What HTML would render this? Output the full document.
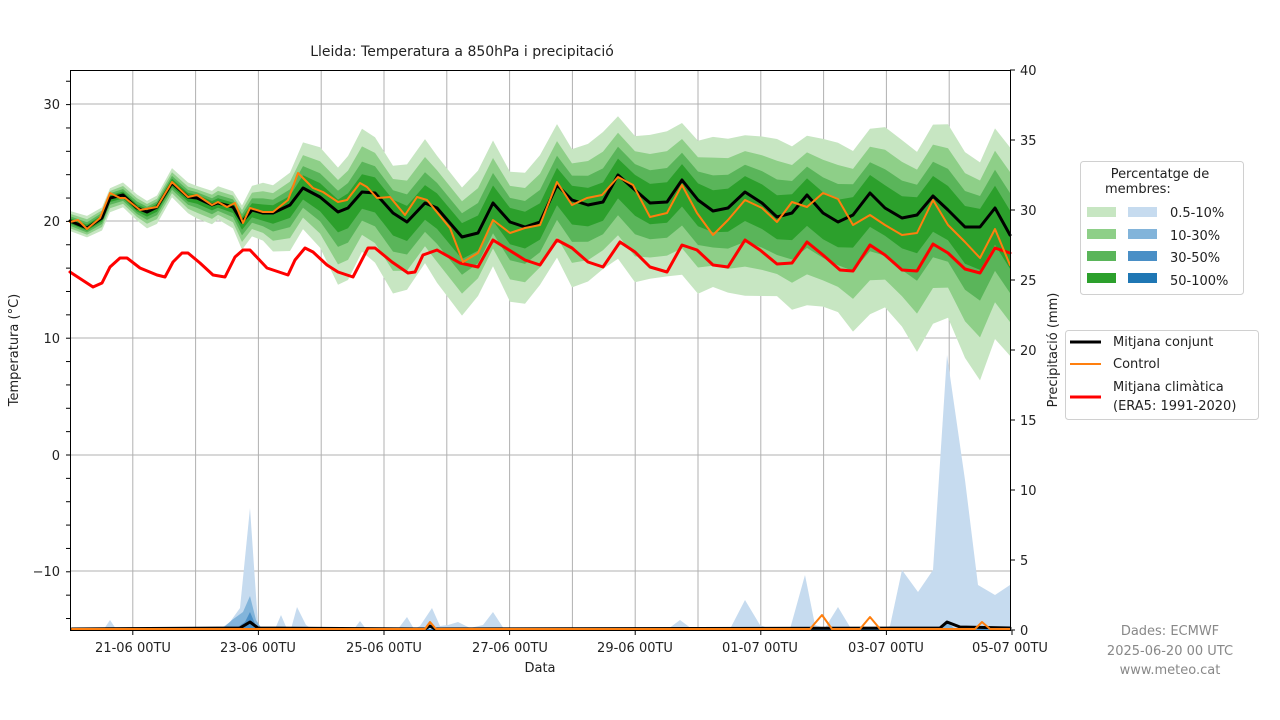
<!DOCTYPE html>
<html><head><meta charset="utf-8"><style>
html,body{margin:0;padding:0;background:#fff}
svg{display:block;font-family:"DejaVu Sans","Liberation Sans",sans-serif}
</style></head><body>
<svg id="s" width="1280" height="720" viewBox="0 0 1280 720" xmlns="http://www.w3.org/2000/svg">
<rect width="1280" height="720" fill="#fff"/>
<g id="grid" stroke="#b0b0b0" stroke-width="1"></g>
<g id="bands"></g>
<g id="precip"></g>
<g id="lines" fill="none" stroke-linejoin="round" stroke-linecap="round"></g>
<rect x="70.5" y="70.5" width="940" height="560" fill="none" stroke="#000" stroke-width="1"/>
<g id="ticks" stroke="#000" stroke-width="1"></g>
<g font-size="13" fill="#222">
<text x="462" y="56" text-anchor="middle" font-size="14">Lleida: Temperatura a 850hPa i precipitació</text>
<text x="60" y="109" text-anchor="end">30</text>
<text x="60" y="226" text-anchor="end">20</text>
<text x="60" y="343" text-anchor="end">10</text>
<text x="60" y="460" text-anchor="end">0</text>
<text x="60" y="576" text-anchor="end">−10</text>
<text x="1020" y="75">40</text>
<text x="1020" y="145">35</text>
<text x="1020" y="215">30</text>
<text x="1020" y="285">25</text>
<text x="1020" y="355">20</text>
<text x="1020" y="425">15</text>
<text x="1020" y="495">10</text>
<text x="1020" y="565">5</text>
<text x="1020" y="635">0</text>
<text x="133" y="652" text-anchor="middle">21-06 00TU</text>
<text x="258" y="652" text-anchor="middle">23-06 00TU</text>
<text x="384" y="652" text-anchor="middle">25-06 00TU</text>
<text x="510" y="652" text-anchor="middle">27-06 00TU</text>
<text x="635" y="652" text-anchor="middle">29-06 00TU</text>
<text x="760" y="652" text-anchor="middle">01-07 00TU</text>
<text x="886" y="652" text-anchor="middle">03-07 00TU</text>
<text x="1010" y="652" text-anchor="middle">05-07 00TU</text>
<text x="540" y="672" text-anchor="middle">Data</text>
<text transform="translate(18,350) rotate(-90)" text-anchor="middle">Temperatura (°C)</text>
<text transform="translate(1057,350) rotate(-90)" text-anchor="middle">Precipitació (mm)</text>
<g fill="#888"><text x="1170" y="635" text-anchor="middle">Dades: ECMWF</text>
<text x="1170" y="655" text-anchor="middle">2025-06-20 00 UTC</text>
<text x="1170" y="674" text-anchor="middle">www.meteo.cat</text></g>
</g>
<g font-size="13" fill="#222">
<rect x="1080.5" y="161.5" width="163" height="133" rx="3" fill="#fff" stroke="#d0d0d0"/>
<text x="1160" y="178" text-anchor="middle">Percentatge de</text>
<text x="1105" y="193">membres:</text>
<rect x="1087" y="207" width="29" height="10" fill="#c7e6c2"/><rect x="1128" y="207" width="29" height="10" fill="#c6dbef"/><text x="1170" y="217">0.5-10%</text>
<rect x="1087" y="229" width="29" height="10" fill="#8ecf88"/><rect x="1128" y="229" width="29" height="10" fill="#82b4da"/><text x="1170" y="240">10-30%</text>
<rect x="1087" y="251" width="29" height="10" fill="#5ab55a"/><rect x="1128" y="251" width="29" height="10" fill="#4a8fc6"/><text x="1170" y="262">30-50%</text>
<rect x="1087" y="273" width="29" height="10" fill="#2ca02c"/><rect x="1128" y="273" width="29" height="10" fill="#1f77b4"/><text x="1170" y="285">50-100%</text>
<rect x="1065.5" y="330.5" width="193" height="89" rx="3" fill="#fff" stroke="#d0d0d0"/>
<line x1="1070" y1="342" x2="1101" y2="342" stroke="#000" stroke-width="3"/><text x="1113" y="346">Mitjana conjunt</text>
<line x1="1070" y1="364" x2="1101" y2="364" stroke="#ff7f0e" stroke-width="2"/><text x="1113" y="368">Control</text>
<line x1="1070" y1="397" x2="1101" y2="397" stroke="#ff0000" stroke-width="3"/><text x="1113" y="391">Mitjana climàtica</text><text x="1113" y="410">(ERA5: 1991-2020)</text>
</g>
</svg>
<script>
(function(){
var NS="http://www.w3.org/2000/svg";
function el(p,t,a){var e=document.createElementNS(NS,t);for(var k in a)e.setAttribute(k,a[k]);document.getElementById(p).appendChild(e);return e;}
for(var d=1;d<15;d++){var x=70+d*62.8;el("grid","line",{x1:x,y1:70,x2:x,y2:630});}
[104,221,338,455,571].forEach(function(y){el("grid","line",{x1:70,y1:y,x2:1010,y2:y});});
for(var v=-14;v<=32;v+=2){var y=455-v*11.68;el("ticks","line",{x1:66,y1:y,x2:70,y2:y});}
for(var v=0;v<=40;v+=5){var y=630-v*14;el("ticks","line",{x1:1010,y1:y,x2:1015,y2:y});}
for(var d=1;d<=15;d+=2){var x=70+d*62.8;el("ticks","line",{x1:x,y1:630,x2:x,y2:635});}
var mean=[[70,221],[87,228],[102,218],[110,198],[123,195],[137,208],[147,212],[157,207],[172,183],[188,197],[197,198],[212,205],[218,203],[233,207],[242,222],[252,210],[263,213],[273,213],[290,205],[303,188],[320,197],[338,212],[348,208],[362,192],[375,193],[393,213],[407,222],[425,203],[437,208],[462,237],[478,233],[493,203],[510,222],[525,227],[540,222],[557,185],[572,200],[588,205],[603,202],[618,175],[635,190],[650,203],[667,202],[682,180],[698,200],[713,211],[728,208],[745,192],[762,203],[777,217],[792,213],[807,195],[823,213],[838,222],[853,215],[870,193],[885,208],[902,218],[917,215],[933,196],[948,210],[965,227],[980,227],[995,208],[1010,235]];
var ctrl=[[70,222],[78,220],[87,229],[100,218],[110,193],[120,198],[125,198],[140,210],[157,207],[172,182],[188,197],[197,195],[212,205],[218,202],[227,207],[235,203],[243,223],[250,208],[263,212],[273,212],[288,200],[298,173],[313,188],[323,192],[338,202],[347,200],[360,183],[367,187],[377,198],[390,197],[405,215],[417,197],[427,200],[450,228],[463,262],[478,253],[493,220],[510,233],[525,228],[540,225],[557,182],[572,205],[587,198],[602,195],[618,177],[633,185],[650,217],[667,213],[682,185],[697,213],[713,235],[728,220],[745,200],[762,208],[777,222],[792,202],[807,207],[823,193],[838,199],[853,225],[870,215],[885,225],[902,235],[917,233],[933,200],[948,225],[965,242],[980,258],[995,229],[1010,265]];
var red=[[70,272],[93,287],[102,283],[110,267],[120,258],[127,258],[140,268],[157,275],[165,277],[173,262],[182,253],[188,253],[200,263],[213,275],[225,277],[235,257],[243,250],[250,250],[267,268],[288,275],[295,260],[305,248],[313,252],[327,265],[338,272],[353,277],[368,248],[375,248],[392,262],[408,273],[415,272],[423,255],[437,250],[460,263],[478,267],[493,240],[525,260],[540,265],[557,240],[572,248],[588,262],[603,267],[620,242],[635,252],[650,267],[667,272],[682,245],[697,250],[713,265],[728,267],[745,240],[760,250],[777,264],[792,263],[807,242],[823,255],[840,270],[853,271],[870,245],[885,255],[902,270],[917,271],[933,244],[948,253],[965,269],[980,273],[995,248],[1010,253]];
function interp(pts,xs){for(var i=0;i<pts.length-1;i++){if(xs<=pts[i+1][0]){var t=(xs-pts[i][0])/(pts[i+1][0]-pts[i][0]);return pts[i][1]+t*(pts[i+1][1]-pts[i][1]);}}return pts[pts.length-1][1];}
var upK=[[70,10],[230,15],[300,40],[350,55],[500,57],[1010,77]];
var dnK=[[70,10],[230,20],[300,45],[350,70],[500,70],[800,95],[1010,140]];
var cols=["#c7e6c2","#8ecf88","#5ab55a","#2ca02c"],fr=[1,0.72,0.48,0.28];
for(var b=0;b<4;b++){var tp=[],bt=[];mean.forEach(function(p,i){var w=1+0.15*Math.sin(i*1.7);var u=interp(upK,p[0])*fr[b]*w,dn=interp(dnK,p[0])*fr[b]*(2-w);tp.push(p[0]+","+(p[1]-u).toFixed(1));bt.unshift(p[0]+","+Math.min(629,p[1]+dn).toFixed(1));});
el("bands","polygon",{points:tp.concat(bt).join(" "),fill:cols[b]});}
function poly(pts,fill){var s="70,630 "+pts.map(function(p){return p[0]+","+p[1];}).join(" ")+" 1010,630";el("precip","polygon",{points:s,fill:fill});}
poly([[70,629],[104,629],[110,620],[116,629],[220,629],[230,622],[240,608],[250,508],[258,625],[264,629],[275,629],[281,615],[287,629],[291,629],[297,607],[306,625],[312,629],[354,629],[360,621],[366,629],[398,629],[407,617],[414,629],[420,626],[432,608],[440,626],[448,625],[458,622],[470,628],[483,625],[493,612],[504,629],[668,629],[680,620],[692,629],[730,629],[745,600],[760,625],[770,629],[790,629],[805,575],[815,625],[825,628],[838,607],[850,627],[880,629],[890,626],[902,570],[918,592],[933,570],[947,355],[965,480],[978,585],[995,595],[1010,585]],"#c6dbef");
poly([[70,629],[222,629],[232,620],[243,612],[250,596],[256,620],[262,629],[940,629],[947,622],[955,629],[1010,629]],"#82b4da");
poly([[70,629],[235,629],[245,622],[250,612],[256,626],[262,629],[1010,629]],"#4a8fc6");
function line(pts,c,w){el("lines","polyline",{points:pts.map(function(p){return p[0]+","+p[1];}).join(" "),stroke:c,"stroke-width":w});}
line([[72,629],[240,628],[250,622],[258,628],[425,629],[430,626],[435,629],[940,628],[947,622],[960,627],[1010,628]],"#000",3);
line([[72,629],[425,629],[430,622],[436,629],[810,629],[822,615],[832,629],[860,629],[870,617],[880,629],[975,629],[982,622],[990,629],[1010,629]],"#ff7f0e",2);
line(red,"#ff0000",3);
line(mean,"#000",3);
line(ctrl,"#ff7f0e",2);
})();
</script>
</body></html>
